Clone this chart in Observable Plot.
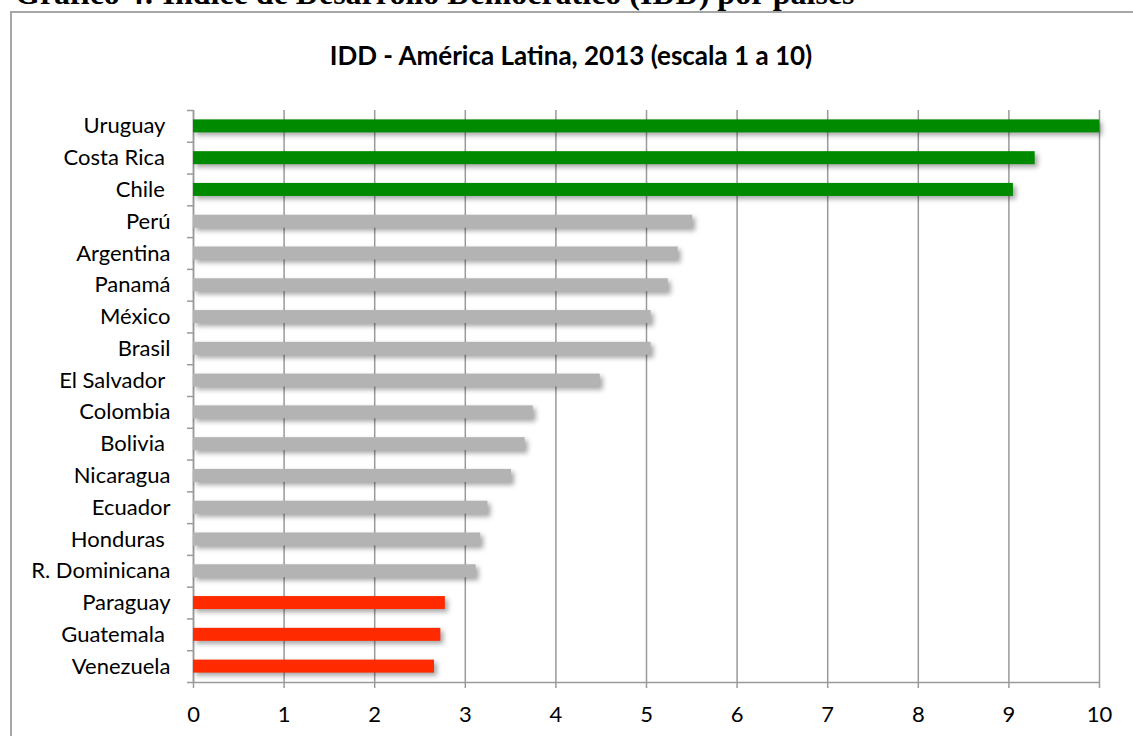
<!DOCTYPE html>
<html>
<head>
<meta charset="utf-8">
<script src="https://cdn.jsdelivr.net/npm/d3@7"></script>
<script src="https://cdn.jsdelivr.net/npm/@observablehq/plot@0.6"></script>
<style>
  body { margin: 0; width: 1133px; height: 736px; overflow: hidden; position: relative; background: #fff; }
  #caption { position: absolute; left: 15px; top: -23px; font: bold 32px "Liberation Serif", serif; line-height: 32px; white-space: nowrap; color: #000; }
  #frame { position: absolute; left: 10px; top: 11px; width: 1140px; height: 800px; border: 2px solid #a6a6a6; box-sizing: border-box; }
  #title { position: absolute; left: 0; top: 42px; width: 1142px; text-align: center; font: bold 26px Lato, sans-serif; line-height: 26px; color: #000; }
  #chart { position: absolute; left: 0; top: 0; }
</style>
</head>
<body>
<div id="caption">Gráfico 4: Índice de Desarrollo Democrático (IDD) por países</div>
<div id="frame"></div>
<div id="title">IDD - América Latina, 2013 (escala 1 a 10)</div>
<div id="chart"></div>
<script>
// Country labels (some carry a trailing space, as in the source sheet)
const countries = [
  "Uruguay\u00a0", "Costa Rica\u00a0", "Chile\u00a0", "Perú", "Argentina", "Panamá",
  "México", "Brasil", "El Salvador\u00a0", "Colombia", "Bolivia\u00a0", "Nicaragua",
  "Ecuador", "Honduras\u00a0", "R. Dominicana", "Paraguay", "Guatemala\u00a0", "Venezuela"
];
// IDD-Lat 2013 score (1–10)
const idd = [10.0, 9.29, 9.05, 5.51, 5.35, 5.24, 5.05, 5.05, 4.49, 3.75, 3.66, 3.51, 3.25, 3.17, 3.12, 2.78, 2.73, 2.66];
// Development level group of each country
const levels = ["alto", "alto", "alto", "medio", "medio", "medio", "medio", "medio", "medio",
  "medio", "medio", "medio", "medio", "medio", "medio", "bajo", "bajo", "bajo"];
const xTicks = [0, 1, 2, 3, 4, 5, 6, 7, 8, 9, 10];

const data = countries.map((name, i) => ({name, value: idd[i], level: levels[i]}));

const W = 1133, H = 736, mL = 193, mR = 34, mT = 110, mB = 54;
const band = (H - mT - mB) / countries.length;
const barH = 13;
const inset = (band - barH) / 2;
const gray = "#9a9a9a";

const chart = Plot.plot({
  width: W, height: H,
  marginLeft: mL, marginRight: mR, marginTop: mT, marginBottom: mB,
  style: {fontFamily: "Lato, sans-serif", fontSize: "22px", color: "#000", background: "transparent"},
  x: {domain: [0, 10]},
  y: {domain: countries, padding: 0, round: false},
  color: {domain: ["alto", "medio", "bajo"], range: ["#008a00", "#b3b3b3", "#ff2a00"]},
  marks: [
    Plot.gridX(xTicks, {stroke: gray, strokeOpacity: 1, strokeWidth: 1.5}),
    Plot.ruleX([0], {stroke: gray, strokeWidth: 1.5}),
    Plot.barX(data, {x: "value", y: "name", fill: "level", insetTop: inset, insetBottom: inset}),
    Plot.axisY({tickSize: 0, tickPadding: 23, fontSize: 22, label: null, fill: "#000"}),
    Plot.axisY({tickSize: 6, fill: "none", stroke: gray, strokeWidth: 1.5, label: null, dy: -band / 2}),
    Plot.axisY([countries[countries.length - 1]], {tickSize: 6, fill: "none", stroke: gray, strokeWidth: 1.5, label: null, dy: band / 2}),
    Plot.axisX(xTicks, {tickSize: 6, tickPadding: 18, fontSize: 22, stroke: gray, strokeWidth: 1.5, fill: "#000", label: null}),
    Plot.ruleY([countries[countries.length - 1]], {x1: 0, x2: 10, stroke: gray, strokeWidth: 1.5, dy: band / 2})
  ]
});

const barGroup = chart.querySelector('g[aria-label="bar"]');
if (barGroup) barGroup.style.filter = "drop-shadow(3px 3px 2.5px rgba(0,0,0,0.35))";
document.getElementById("chart").append(chart);
</script>
</body>
</html>
